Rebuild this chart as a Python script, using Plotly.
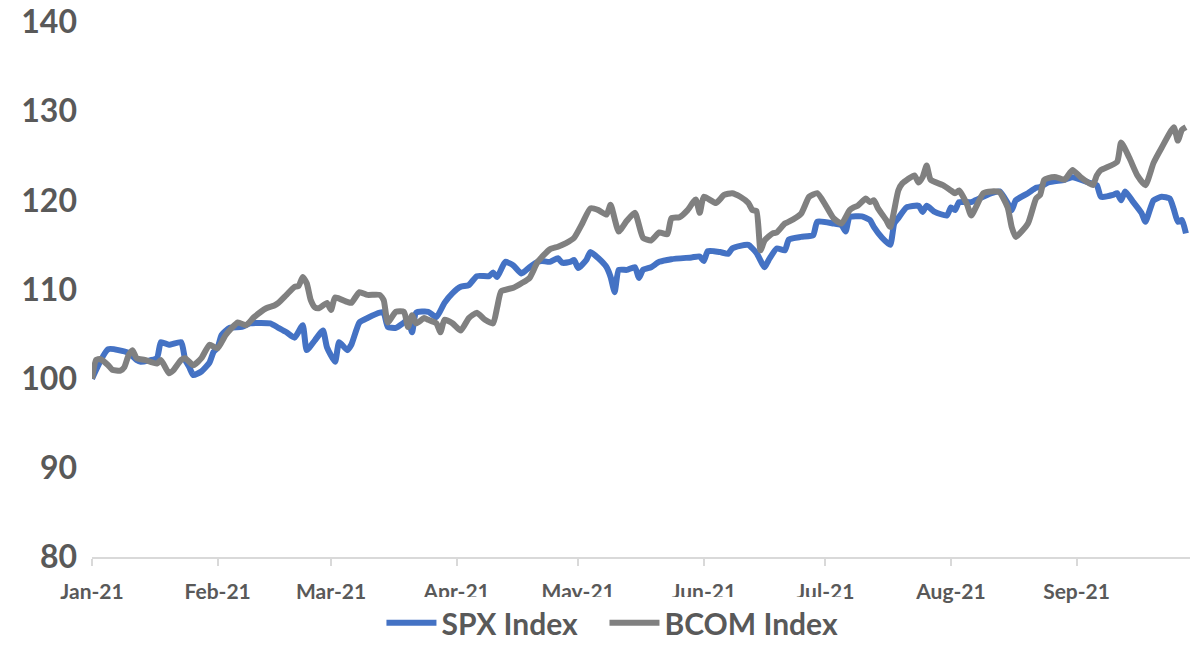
import plotly.graph_objects as go

spx_dates = ["2021-01-01","2021-01-05","2021-01-10","2021-01-12","2021-01-13","2021-01-17","2021-01-18","2021-01-20","2021-01-23","2021-01-24","2021-01-25","2021-01-26","2021-01-28","2021-01-30","2021-01-31",
"2021-02-01","2021-02-02","2021-02-04","2021-02-07","2021-02-09","2021-02-14","2021-02-16","2021-02-18","2021-02-20","2021-02-22","2021-02-23","2021-02-25","2021-02-27","2021-02-28",
"2021-03-02","2021-03-03","2021-03-05","2021-03-06","2021-03-08","2021-03-10","2021-03-13","2021-03-14","2021-03-15","2021-03-17","2021-03-19","2021-03-20","2021-03-21","2021-03-22","2021-03-25","2021-03-27","2021-03-29","2021-03-31",
"2021-04-02","2021-04-04","2021-04-06","2021-04-09","2021-04-10","2021-04-11","2021-04-13","2021-04-15","2021-04-17","2021-04-19","2021-04-21","2021-04-22","2021-04-24","2021-04-26","2021-04-27","2021-04-29","2021-04-30",
"2021-05-01","2021-05-03","2021-05-04","2021-05-06","2021-05-08","2021-05-09","2021-05-10","2021-05-11","2021-05-13","2021-05-15","2021-05-16","2021-05-17","2021-05-19","2021-05-21","2021-05-24","2021-05-29","2021-05-31",
"2021-06-01","2021-06-02","2021-06-05","2021-06-07","2021-06-08","2021-06-10","2021-06-12","2021-06-14","2021-06-16","2021-06-17","2021-06-19","2021-06-21","2021-06-22","2021-06-25","2021-06-28","2021-06-29",
"2021-07-03","2021-07-05","2021-07-06","2021-07-07","2021-07-10","2021-07-12","2021-07-13","2021-07-15","2021-07-17","2021-07-18","2021-07-19","2021-07-21","2021-07-24","2021-07-25","2021-07-26","2021-07-28","2021-07-31",
"2021-08-01","2021-08-02","2021-08-03","2021-08-06","2021-08-07","2021-08-11","2021-08-13","2021-08-15","2021-08-16","2021-08-17","2021-08-20","2021-08-22","2021-08-23","2021-08-25","2021-08-29","2021-08-31",
"2021-09-04","2021-09-06","2021-09-07","2021-09-10","2021-09-11","2021-09-12","2021-09-13","2021-09-15","2021-09-17","2021-09-18","2021-09-20","2021-09-22","2021-09-24","2021-09-25","2021-09-26","2021-09-27","2021-09-28"]
spx_vals = [100.0,103.3,102.9,102.1,101.9,102.3,104.1,103.8,104.1,102.1,101.3,100.4,100.8,101.8,103.0,
103.5,104.9,105.7,105.8,106.2,106.2,105.7,105.2,104.6,106.0,103.2,104.3,105.4,103.5,
101.9,104.1,103.2,103.8,106.3,106.8,107.4,107.4,105.8,105.7,106.3,106.6,105.2,107.4,107.5,106.9,108.5,109.6,
110.3,110.5,111.5,111.5,111.9,111.4,113.1,112.7,111.8,112.5,113.1,113.2,113.1,113.5,113.0,113.1,113.3,
112.4,113.3,114.2,113.5,112.5,111.4,109.7,112.2,112.2,112.5,111.3,112.2,112.5,113.1,113.4,113.6,113.7,
113.2,114.3,114.2,114.0,114.6,114.9,115.0,114.1,112.5,113.3,114.6,114.4,115.6,115.9,116.1,117.6,
117.4,117.2,116.5,118.1,118.2,117.8,117.0,115.8,115.0,117.4,118.0,119.2,119.4,118.7,119.4,118.7,118.3,
119.2,118.9,119.8,119.8,120.0,120.8,121.0,119.7,118.9,120.0,120.8,121.4,121.5,122.0,122.3,122.6,
122.0,121.7,120.4,120.6,120.8,120.0,121.0,119.8,118.6,117.6,120.0,120.4,120.2,119.0,117.6,117.8,116.3]

bcom_dates = ["2021-01-01","2021-01-02","2021-01-03","2021-01-05","2021-01-06","2021-01-08","2021-01-09","2021-01-10","2021-01-11","2021-01-12","2021-01-14","2021-01-17","2021-01-18","2021-01-20","2021-01-21","2021-01-23","2021-01-24","2021-01-26","2021-01-28","2021-01-30",
"2021-02-01","2021-02-03","2021-02-06","2021-02-08","2021-02-10","2021-02-13","2021-02-15","2021-02-16","2021-02-18","2021-02-20","2021-02-21","2021-02-22","2021-02-23","2021-02-24","2021-02-25","2021-02-26","2021-02-28",
"2021-03-01","2021-03-02","2021-03-05","2021-03-06","2021-03-08","2021-03-10","2021-03-13","2021-03-14","2021-03-15","2021-03-17","2021-03-19","2021-03-20","2021-03-21","2021-03-22","2021-03-24","2021-03-25","2021-03-27","2021-03-28","2021-03-29","2021-03-31",
"2021-04-02","2021-04-04","2021-04-06","2021-04-08","2021-04-10","2021-04-11","2021-04-12","2021-04-15","2021-04-17","2021-04-19","2021-04-21","2021-04-24","2021-04-26","2021-04-28","2021-04-30",
"2021-05-02","2021-05-04","2021-05-06","2021-05-08","2021-05-09","2021-05-11","2021-05-13","2021-05-15","2021-05-17","2021-05-19","2021-05-21","2021-05-23","2021-05-24","2021-05-26","2021-05-28","2021-05-30","2021-05-31",
"2021-06-01","2021-06-04","2021-06-06","2021-06-08","2021-06-10","2021-06-12","2021-06-13","2021-06-14","2021-06-15","2021-06-16","2021-06-18","2021-06-19","2021-06-21","2021-06-22","2021-06-25","2021-06-27","2021-06-29",
"2021-07-01","2021-07-03","2021-07-05","2021-07-07","2021-07-08","2021-07-09","2021-07-11","2021-07-12","2021-07-13","2021-07-14","2021-07-16","2021-07-17","2021-07-19","2021-07-20","2021-07-23","2021-07-24","2021-07-25","2021-07-26","2021-07-27","2021-07-30",
"2021-08-01","2021-08-02","2021-08-03","2021-08-05","2021-08-06","2021-08-09","2021-08-11","2021-08-13","2021-08-15","2021-08-16","2021-08-17","2021-08-20","2021-08-22","2021-08-23","2021-08-24","2021-08-25","2021-08-27","2021-08-29","2021-08-31",
"2021-09-02","2021-09-05","2021-09-06","2021-09-07","2021-09-11","2021-09-12","2021-09-14","2021-09-16","2021-09-18","2021-09-20","2021-09-22","2021-09-25","2021-09-26","2021-09-27","2021-09-28"]
bcom_vals = [100.0,102.1,102.2,101.5,101.0,100.9,101.3,102.6,103.2,102.3,102.1,101.7,102.1,100.6,100.9,102.1,102.3,101.5,102.3,103.8,
103.4,104.9,106.3,106.0,106.9,107.9,108.2,108.5,109.4,110.3,110.4,111.4,110.7,108.8,108.0,107.9,108.5,
107.7,109.1,108.6,108.5,109.7,109.4,109.4,108.8,106.3,107.5,107.5,105.8,107.1,106.2,106.8,106.6,106.2,105.2,106.6,106.2,
105.4,106.8,107.4,106.6,106.2,108.0,109.8,110.2,110.7,111.3,113.1,114.5,114.8,115.2,115.8,
117.4,119.1,118.9,118.4,119.5,116.5,117.7,118.6,115.8,115.5,116.4,116.2,118.0,118.1,118.9,120.1,118.6,
120.4,119.7,120.6,120.8,120.4,119.7,118.9,118.8,114.4,115.5,116.3,116.4,117.4,117.6,118.5,120.4,120.8,
119.5,118.0,117.4,118.9,119.2,119.4,120.2,119.8,120.0,119.1,117.8,117.0,121.1,121.9,122.8,122.0,122.6,123.9,122.3,121.7,
121.1,120.8,121.1,119.5,118.3,120.8,121.0,120.9,119.2,117.0,115.9,117.4,120.2,120.6,122.3,122.5,122.6,122.3,123.4,
122.6,121.7,122.8,123.4,124.3,126.5,124.8,122.8,121.7,124.2,125.9,128.2,126.7,127.9,128.2]

month_ticks = ["2021-01-01","2021-02-01","2021-03-01","2021-04-01","2021-05-01","2021-06-01","2021-07-01","2021-08-01","2021-09-01"]
month_labels = ["Jan-21","Feb-21","Mar-21","Apr-21","May-21","Jun-21","Jul-21","Aug-21","Sep-21"]
y_ticks = [80, 90, 100, 110, 120, 130, 140]

FONT = "Lato"
TXT = "#595959"

fig = go.Figure()
fig.add_trace(go.Scatter(x=spx_dates, y=spx_vals, mode="lines", name="SPX Index\u00a0\u00a0\u00a0",
                         line=dict(color="#4472C4", width=6, shape="spline", smoothing=0.5)))
fig.add_trace(go.Scatter(x=bcom_dates, y=bcom_vals, mode="lines", name="BCOM Index",
                         line=dict(color="#808080", width=6, shape="spline", smoothing=0.5)))

fig.update_layout(
    width=1191, height=664,
    margin=dict(l=92, r=1, t=22, b=107, autoexpand=False),
    paper_bgcolor="white", plot_bgcolor="white",
    font=dict(family=FONT, color=TXT),
    legend=dict(orientation="h", x=0.474, xanchor="center", y=-0.123, yanchor="middle",
                font=dict(size=30, family=FONT, color=TXT, weight="bold"),
                itemwidth=50, tracegroupgap=0),
    showlegend=True,
)
fig.update_xaxes(
    type="date", range=["2021-01-01", "2021-09-29"], automargin=False,
    tickvals=month_ticks, ticktext=month_labels,
    showgrid=False, showline=True, linecolor="#D9D9D9", linewidth=1.5,
    ticks="outside", tickcolor="#D9D9D9", ticklen=7, tickwidth=1.5,
    tickfont=dict(size=21, family=FONT, color=TXT, weight="bold"),
    ticklabelstandoff=8, zeroline=False,
)
fig.update_yaxes(
    range=[80, 140], tickvals=y_ticks, automargin=False,
    showgrid=False, showline=False, zeroline=False,
    tickfont=dict(size=32, family=FONT, color=TXT, weight="bold"),
    ticks="", ticklabelstandoff=14,
)
fig.write_html("out.html", config={"displayModeBar": False},
               post_script="document.body.style.margin='0';")
